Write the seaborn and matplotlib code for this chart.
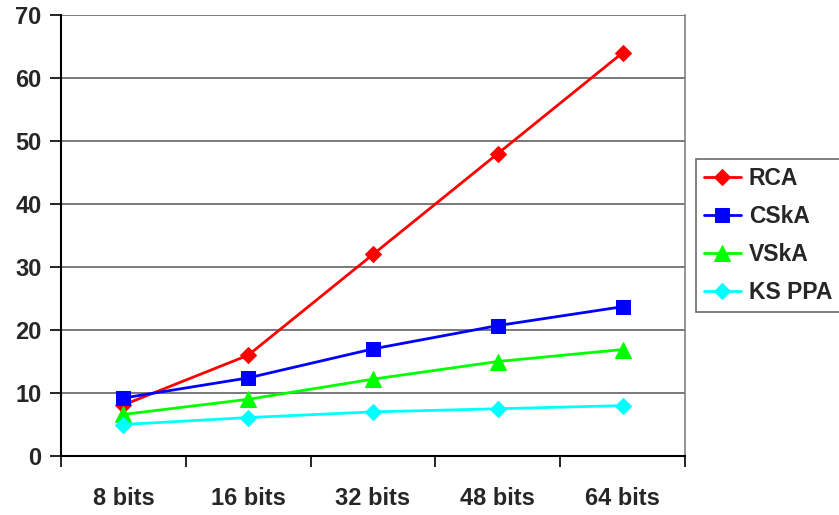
import matplotlib
matplotlib.use("Agg")
import matplotlib.pyplot as plt
import seaborn as sns
import pandas as pd
import numpy as np

categories = ["8 bits", "16 bits", "32 bits", "48 bits", "64 bits"]
rca = [8.1, 16.0, 32.0, 48.0, 64.0]
cska = [9.2, 12.4, 17.0, 20.7, 23.7]
vska = [6.6, 9.0, 12.2, 15.0, 16.9]
ks_ppa = [5.0, 6.1, 7.0, 7.5, 8.0]

series_names = ["RCA", "CSkA", "VSkA", "KS PPA"]
series_values = [rca, cska, vska, ks_ppa]
colors = {"RCA": "#ff0000", "CSkA": "#0000ff", "VSkA": "#00ff00", "KS PPA": "#00ffff"}
markers = {"RCA": "D", "CSkA": "s", "VSkA": "^", "KS PPA": "D"}
msizes = {"RCA": 8, "CSkA": 10, "VSkA": 11, "KS PPA": 8}

rows = []
for name, vals in zip(series_names, series_values):
    for i, v in enumerate(vals):
        rows.append({"x": i, "value": v, "series": name})
df = pd.DataFrame(rows)

sns.set_theme(style="white")
plt.rcParams["font.family"] = ["Liberation Sans", "DejaVu Sans"]
plt.rcParams["font.weight"] = "bold"

fig = plt.figure(figsize=(8.39, 5.15), dpi=100)
ax = fig.add_axes([61 / 839, 59 / 515, 624 / 839, 441 / 515])

for name in series_names:
    sub = df[df["series"] == name]
    sns.lineplot(data=sub, x="x", y="value", ax=ax, color=colors[name],
                 marker=markers[name], markersize=msizes[name],
                 markeredgecolor=colors[name], linewidth=2, label=name,
                 legend=False)

ax.set_xlim(-0.5, len(categories) - 0.5)
ax.set_ylim(0, 70)
ax.set_yticks(np.arange(0, 71, 10))
ax.yaxis.grid(True, color="#555555", linewidth=1.1)
ax.set_axisbelow(True)

ax.set_xticks(range(len(categories)))
ax.set_xticklabels(categories, fontsize=17, fontweight="bold")
ax.set_xticks(np.arange(-0.5, len(categories), 1.0), minor=True)
ax.tick_params(axis="x", which="major", length=0, pad=22)
ax.tick_params(axis="x", which="minor", length=8, width=1.2, color="black", direction="out", bottom=True)
ax.tick_params(axis="y", length=8, width=1.2, color="black", direction="out", left=True, labelsize=17, pad=6)
for lbl in ax.get_yticklabels():
    lbl.set_fontweight("bold")

ax.set_xlabel("")
ax.set_ylabel("")
for s in ["left", "bottom"]:
    ax.spines[s].set_color("black")
    ax.spines[s].set_linewidth(1.5)
ax.spines["top"].set_visible(False)
ax.spines["right"].set_color("#777777")
ax.spines["right"].set_linewidth(1.1)

handles, labels = ax.get_legend_handles_labels()
leg = fig.legend(handles, labels, loc="center left",
                 bbox_to_anchor=(696 / 839, (515 - 235.5) / 515),
                 frameon=True, fancybox=False, edgecolor="#444444",
                 prop={"size": 16.5, "weight": "bold"}, handlelength=1.6,
                 borderpad=0.35, labelspacing=0.65, handletextpad=0.35,
                 borderaxespad=0)
leg.get_frame().set_linewidth(1.2)

fig.savefig("out.png", dpi=100)
